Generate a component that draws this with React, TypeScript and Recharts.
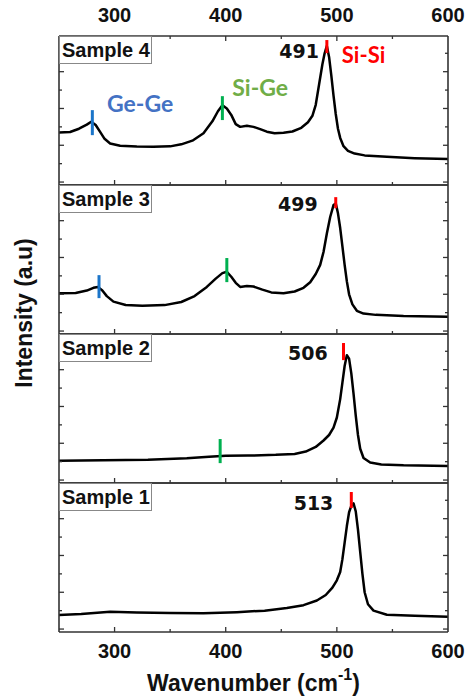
import React from 'react';
import { LineChart, Line, XAxis, YAxis, ReferenceLine, ReferenceDot } from 'recharts';

// ---------- data (wavenumber in cm^-1, intensity in a.u.) ----------
const sample4Wavenumber = [250, 260, 268, 275, 279, 283, 287, 291, 296, 305, 320, 335, 350, 360, 370, 380, 388, 393, 397, 401, 405, 409, 413, 419, 425, 431, 437, 444, 452, 460, 468, 474, 478, 481, 484, 487, 489, 491, 493, 495, 497, 499, 501, 503, 506, 510, 516, 525, 545, 570, 600];
const sample4Intensity = [270, 272, 290, 312, 328, 310, 273, 235, 210, 197, 193, 192, 194, 205, 225, 265, 330, 385, 418, 400, 365, 315, 300, 306, 300, 288, 274, 265, 268, 275, 295, 325, 360, 420, 530, 640, 700, 740, 680, 580, 470, 370, 290, 240, 195, 170, 155, 145, 137, 130, 125];

const sample3Wavenumber = [250, 265, 275, 281, 285, 289, 293, 299, 310, 325, 345, 360, 372, 383, 391, 397, 401, 405, 409, 413, 419, 425, 433, 441, 452, 462, 470, 476, 481, 485, 488, 491, 494, 497, 499, 501, 503, 505, 507, 509, 511, 514, 518, 524, 535, 560, 600];
const sample3Intensity = [205, 207, 220, 235, 240, 220, 190, 160, 142, 137, 141, 158, 190, 240, 285, 315, 322, 295, 262, 240, 245, 242, 225, 210, 205, 215, 235, 265, 310, 360, 430, 530, 620, 685, 694, 640, 560, 460, 360, 270, 200, 145, 110, 95, 88, 82, 78];

const sample2Wavenumber = [250, 290, 330, 365, 385, 400, 420, 445, 462, 472, 481, 488, 493, 497, 500, 503, 505, 507, 509, 511, 513, 515, 517, 519, 521, 524, 530, 540, 560, 600];
const sample2Intensity = [105, 107, 110, 118, 127, 132, 133, 137, 142, 155, 180, 215, 245, 285, 340, 440, 530, 620, 679, 660, 580, 470, 350, 245, 170, 120, 95, 85, 80, 76];

const sample1Wavenumber = [250, 270, 296, 320, 350, 380, 410, 435, 455, 470, 482, 490, 496, 500, 503, 505, 507, 509, 511, 513, 515, 517, 519, 521, 523, 525, 528, 533, 545, 570, 600];
const sample1Intensity = [76, 82, 94, 90, 87, 86, 92, 100, 115, 130, 155, 185, 225, 265, 310, 380, 470, 560, 635, 670, 683, 640, 540, 420, 300, 200, 135, 100, 78, 72, 67];

const sampleNames = ['Sample 4', 'Sample 3', 'Sample 2', 'Sample 1'];
const siSiPeaks = [491, 499, 506, 513];
const siSiMarkerRange = [[701, 772], [668, 728], [652, 745], [658, 745]];
const geGeMarkers = [{ x: 280, y: [255, 391] }, { x: 286, y: [179, 304] }, null, null];
const siGeMarkers = [{ x: 397, y: [337, 467] }, { x: 401, y: [266, 397] }, { x: 395, y: [92, 223] }, null];
const peakLabelPos = [{ x: 466, y: 709 }, { x: 465, y: 690 }, { x: 474, y: 690 }, { x: 479, y: 685 }];

const xTicks = [300, 350, 400, 450, 500, 550, 600];
const yTicks = [0, 100, 200, 300, 400, 500, 600, 700];
const xDomain = [250, 600];
const yDomain = [-16, 794];

const wavenumbers = [sample4Wavenumber, sample3Wavenumber, sample2Wavenumber, sample1Wavenumber];
const intensities = [sample4Intensity, sample3Intensity, sample2Intensity, sample1Intensity];

// ---------- layout ----------
const W = 465;
const H = 697;
const PLOT_LEFT = 59;
const PLOT_RIGHT = 448;
const panelEdges = [36, 185, 334, 483, 632];
const AXIS = '#333';
const ARIAL = '"Liberation Sans", Arial, sans-serif';

const XTick = (props: any) => {
  const { x, y, payload, side, showLabel } = props;
  const v = payload.value;
  const major = v % 100 === 0;
  const len = major ? 5 : 3;
  const dir = side === 'top' ? 1 : -1;
  return (
    <g>
      {v < 600 && <line x1={x} y1={y} x2={x} y2={y + dir * len} stroke={AXIS} strokeWidth={1.3} />}
      {showLabel && major && (
        <text x={x} y={side === 'top' ? y - 21 : y + 19} textAnchor="middle" dominantBaseline="central"
          fontFamily={ARIAL} fontWeight="bold" fontSize={20} fill="#111">{v}</text>
      )}
    </g>
  );
};

const YTick = (props: any) => {
  const { x, y, payload, side } = props;
  const major = payload.value % 200 === 0;
  const len = major ? 5 : 3;
  const dir = side === 'left' ? 1 : -1;
  return <line x1={x} y1={y} x2={x + dir * len} y2={y} stroke={AXIS} strokeWidth={1.3} />;
};

function Panel({ i }: { i: number }) {
  const top = panelEdges[i];
  const bottom = panelEdges[i + 1];
  const data = wavenumbers[i].map((w, k) => ({ w, v: intensities[i][k] }));
  const ge = geGeMarkers[i];
  const sg = siGeMarkers[i];
  const isTop = i === 0;
  const isBottom = i === 3;
  return (
    <div style={{ position: 'absolute', left: 0, top: 0 }}>
      <LineChart width={W} height={H} data={data}
        margin={{ top: top - 1, bottom: H - bottom - 1, left: PLOT_LEFT - 1, right: W - PLOT_RIGHT - 1 }}>
        <XAxis xAxisId="b" dataKey="w" type="number" domain={xDomain} ticks={xTicks} height={1}
          tickSize={0} tickMargin={0} interval={0} allowDataOverflow
          axisLine={{ stroke: AXIS, strokeWidth: 1.6 }} tickLine={false}
          tick={(p: any) => <XTick {...p} side="bottom" showLabel={isBottom} />} />
        <XAxis xAxisId="t" orientation="top" dataKey="w" type="number" domain={xDomain} ticks={xTicks} height={1}
          tickSize={0} tickMargin={0} interval={0} allowDataOverflow
          axisLine={{ stroke: AXIS, strokeWidth: 1.6 }} tickLine={false}
          tick={isTop ? (p: any) => <XTick {...p} side="top" showLabel /> : false} />
        <YAxis yAxisId="l" type="number" domain={yDomain} ticks={yTicks} width={1} tickSize={0} tickMargin={0}
          interval={0} allowDataOverflow axisLine={{ stroke: AXIS, strokeWidth: 1.6 }} tickLine={false}
          tick={(p: any) => <YTick {...p} side="left" />} />
        <YAxis yAxisId="r" orientation="right" type="number" domain={yDomain} ticks={yTicks} width={1} tickSize={0}
          tickMargin={0} interval={0} allowDataOverflow axisLine={{ stroke: AXIS, strokeWidth: 1.6 }} tickLine={false}
          tick={(p: any) => <YTick {...p} side="right" />} />
        <Line xAxisId="b" yAxisId="l" type="linear" dataKey="v" stroke="#000" strokeWidth={2.5}
          strokeLinejoin="round" dot={false} isAnimationActive={false} />
        {ge && (
          <ReferenceLine xAxisId="b" yAxisId="l" segment={[{ x: ge.x, y: ge.y[0] }, { x: ge.x, y: ge.y[1] }]}
            stroke="#1B75C9" strokeWidth={3} />
        )}
        {sg && (
          <ReferenceLine xAxisId="b" yAxisId="l" segment={[{ x: sg.x, y: sg.y[0] }, { x: sg.x, y: sg.y[1] }]}
            stroke="#00B050" strokeWidth={3} />
        )}
        <ReferenceLine xAxisId="b" yAxisId="l"
          segment={[{ x: siSiPeaks[i], y: siSiMarkerRange[i][0] }, { x: siSiPeaks[i], y: siSiMarkerRange[i][1] }]}
          stroke="#FF0000" strokeWidth={3} />
        <ReferenceDot xAxisId="b" yAxisId="l" x={peakLabelPos[i].x} y={peakLabelPos[i].y} r={0}
          fill="none" stroke="none"
          label={{ value: String(siSiPeaks[i]), position: 'center', fill: '#111', fontSize: 19,
            fontWeight: 'bold', fontFamily: '"DejaVu Sans", Verdana, sans-serif' }} />
        {isTop && (
          <ReferenceDot xAxisId="b" yAxisId="l" x={524} y={690} r={0} fill="none" stroke="none"
            label={{ value: 'Si-Si', position: 'center', fill: '#FF0000', fontSize: 22,
              fontWeight: 'bold', fontFamily: 'Lato, sans-serif' }} />
        )}
        {isTop && (
          <ReferenceDot xAxisId="b" yAxisId="l" x={323} y={424} r={0} fill="none" stroke="none"
            label={{ value: 'Ge-Ge', position: 'center', fill: '#4472C4', fontSize: 23,
              fontWeight: 'bold', fontFamily: 'Lato, sans-serif' }} />
        )}
        {isTop && (
          <ReferenceDot xAxisId="b" yAxisId="l" x={431} y={511} r={0} fill="none" stroke="none"
            label={{ value: 'Si-Ge', position: 'center', fill: '#70AD47', fontSize: 23,
              fontWeight: 'bold', fontFamily: 'Lato, sans-serif' }} />
        )}
      </LineChart>
      <div style={{
        position: 'absolute', left: PLOT_LEFT, top: top, width: 93, height: 28, boxSizing: 'border-box',
        border: '1px solid #888', background: '#fff', fontFamily: ARIAL, fontWeight: 'bold', fontSize: 20,
        lineHeight: '26px', paddingLeft: 2, color: '#111', whiteSpace: 'nowrap',
      }}>{sampleNames[i]}</div>
    </div>
  );
}

export default function App() {
  return (
    <div style={{ position: 'absolute', left: 0, top: 0, width: W, height: H, background: '#fff', overflow: 'hidden' }}>
      {[0, 1, 2, 3].map((i) => <Panel key={i} i={i} />)}
      <svg width={W} height={H} style={{ position: 'absolute', left: 0, top: 0, pointerEvents: 'none' }}>
        <text transform="translate(24,313) rotate(-90)" textAnchor="middle" dominantBaseline="central"
          fontFamily={ARIAL} fontWeight="bold" fontSize={23} fill="#111">Intensity (a.u)</text>
        <text x={(PLOT_LEFT + PLOT_RIGHT) / 2} y={683} textAnchor="middle" dominantBaseline="central"
          fontFamily={ARIAL} fontWeight="bold" fontSize={23} fill="#111">
          Wavenumber (cm<tspan dy={-9} fontSize={16}>-1</tspan><tspan dy={9}>)</tspan>
        </text>
      </svg>
    </div>
  );
}
